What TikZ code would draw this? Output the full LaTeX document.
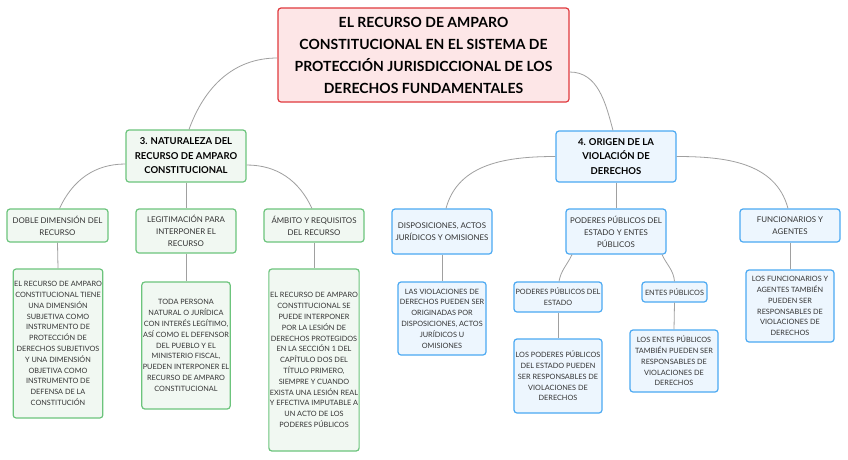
\documentclass[tikz,border=0pt]{standalone}
\usepackage{fontspec}
\setmainfont{Lato}
\definecolor{rootfill}{HTML}{FDE6E7}
\definecolor{rootdraw}{HTML}{E0393E}
\definecolor{gfill}{HTML}{F1F8F2}
\definecolor{gdraw}{HTML}{6CC47C}
\definecolor{bfill}{HTML}{EDF6FE}
\definecolor{bdraw}{HTML}{4BA9F2}
\definecolor{conn}{HTML}{A0A0A0}
\definecolor{txt}{HTML}{333333}
\tikzset{
  basebox/.style={rounded corners=3pt, line width=1.2pt, align=center, inner sep=1pt, text=txt},
  rootbox/.style={basebox, fill=rootfill, draw=rootdraw, text=black, font=\bfseries\fontsize{14}{22}\selectfont},
  gmain/.style={basebox, fill=gfill, draw=gdraw, text=black, font=\bfseries\fontsize{9.5}{14.5}\selectfont},
  bmain/.style={basebox, fill=bfill, draw=bdraw, text=black, font=\bfseries\fontsize{9.5}{14.5}\selectfont},
  gsub/.style={basebox, fill=gfill, draw=gdraw, font=\fontsize{7.9}{12}\selectfont},
  bsub/.style={basebox, fill=bfill, draw=bdraw, font=\fontsize{7.9}{12}\selectfont},
  gleaf/.style={basebox, fill=gfill, draw=gdraw, font=\fontsize{7.3}{10.8}\selectfont},
  bleaf/.style={basebox, fill=bfill, draw=bdraw, font=\fontsize{7.3}{10.8}\selectfont},
  link/.style={draw=conn, line width=0.8pt},
}
\begin{document}
\begin{tikzpicture}[x=1pt,y=-1pt]
\useasboundingbox (0,0) rectangle (848,459);
\fill[white] (0,0) rectangle (848,459);
% boxes
\node[rootbox, minimum width=291pt, minimum height=94pt] (root) at (423.5,55) {EL RECURSO DE AMPARO\\CONSTITUCIONAL EN EL SISTEMA DE\\PROTECCIÓN JURISDICCIONAL DE LOS\\DERECHOS FUNDAMENTALES};
\node[gmain, minimum width=120pt, minimum height=52pt] (n3) at (186,156) {3. NATURALEZA DEL\\RECURSO DE AMPARO\\CONSTITUCIONAL};
\node[bmain, minimum width=120pt, minimum height=51pt] (n4) at (616,156.5) {4. ORIGEN DE LA\\VIOLACIÓN DE\\DERECHOS};
\node[gsub, minimum width=101pt, minimum height=33pt] (doble) at (57.5,225.5) {DOBLE DIMENSIÓN DEL\\RECURSO};
\node[gsub, minimum width=100pt, minimum height=44pt] (legit) at (186,231) {LEGITIMACIÓN PARA\\INTERPONER EL\\RECURSO};
\node[gsub, minimum width=100pt, minimum height=33pt] (ambito) at (314,225.5) {ÁMBITO Y REQUISITOS\\DEL RECURSO};
\node[bsub, minimum width=100pt, minimum height=45pt] (disp) at (442,231.5) {DISPOSICIONES, ACTOS\\JURÍDICOS Y OMISIONES};
\node[bsub, minimum width=100pt, minimum height=45pt] (poder) at (616,231.5) {PODERES PÚBLICOS DEL\\ESTADO Y ENTES\\PÚBLICOS};
\node[bsub, minimum width=100pt, minimum height=33pt] (func) at (790,225.5) {FUNCIONARIOS Y\\AGENTES};
\node[gleaf, minimum width=88pt, minimum height=149pt] (dobled) at (58,343.5) {EL RECURSO DE AMPARO\\CONSTITUCIONAL TIENE\\UNA DIMENSIÓN\\SUBJETIVA COMO\\INSTRUMENTO DE\\PROTECCIÓN DE\\DERECHOS SUBJETIVOS\\Y UNA DIMENSIÓN\\OBJETIVA COMO\\INSTRUMENTO DE\\DEFENSA DE LA\\CONSTITUCIÓN};
\node[gleaf, minimum width=88pt, minimum height=127pt] (legitd) at (186,345.5) {TODA PERSONA\\NATURAL O JURÍDICA\\CON INTERÉS LEGÍTIMO,\\ASÍ COMO EL DEFENSOR\\DEL PUEBLO Y EL\\MINISTERIO FISCAL,\\PUEDEN INTERPONER EL\\RECURSO DE AMPARO\\CONSTITUCIONAL};
\node[gleaf, minimum width=88pt, minimum height=182pt] (ambitod) at (314,360) {EL RECURSO DE AMPARO\\CONSTITUCIONAL SE\\PUEDE INTERPONER\\POR LA LESIÓN DE\\DERECHOS PROTEGIDOS\\EN LA SECCIÓN 1 DEL\\CAPÍTULO DOS DEL\\TÍTULO PRIMERO,\\SIEMPRE Y CUANDO\\EXISTA UNA LESIÓN REAL\\Y EFECTIVA IMPUTABLE A\\UN ACTO DE LOS\\PODERES PÚBLICOS};
\node[bleaf, minimum width=88pt, minimum height=73pt] (dispd) at (442,318.5) {LAS VIOLACIONES DE\\DERECHOS PUEDEN SER\\ORIGINADAS POR\\DISPOSICIONES, ACTOS\\JURÍDICOS U\\OMISIONES};
\node[bleaf, minimum width=88pt, minimum height=30pt] (pe) at (558,297) {PODERES PÚBLICOS DEL\\ESTADO};
\node[bleaf, minimum width=65pt, minimum height=20pt] (ep) at (674.5,292) {ENTES PÚBLICOS};
\node[bleaf, minimum width=88pt, minimum height=72pt] (funcd) at (790,306) {LOS FUNCIONARIOS Y\\AGENTES TAMBIÉN\\PUEDEN SER\\RESPONSABLES DE\\VIOLACIONES DE\\DERECHOS};
\node[bleaf, minimum width=88pt, minimum height=74pt] (ped) at (558,376) {LOS PODERES PÚBLICOS\\DEL ESTADO PUEDEN\\SER RESPONSABLES DE\\VIOLACIONES DE\\DERECHOS};
\node[bleaf, minimum width=88pt, minimum height=62pt] (epd) at (674,361) {LOS ENTES PÚBLICOS\\TAMBIÉN PUEDEN SER\\RESPONSABLES DE\\VIOLACIONES DE\\DERECHOS};
% connectors
\draw[link] ([yshift=-3pt]root.west) to[out=180,in=70] ([xshift=3pt]n3.north);
\draw[link] ([yshift=-17pt]root.east) to[out=0,in=105] ([xshift=-3pt]n4.north);
\draw[link] ([yshift=-8pt]n3.west) to[out=180,in=65] ([xshift=2pt]doble.north);
\draw[link] ([yshift=-9pt]n3.east) to[out=0,in=115] ([xshift=-2pt]ambito.north);
\draw[link] (n3.south) -- (legit.north);
\draw[link] (n4.west) to[out=180,in=75] ([xshift=4pt]disp.north);
\draw[link] (n4.east) to[out=0,in=105] ([xshift=-2pt]func.north);
\draw[link] (n4.south) -- (poder.north);
\draw[link] ([xshift=-44pt]poder.south) to[out=245,in=80] ([xshift=1pt]pe.north);
\draw[link] ([xshift=46pt]poder.south) to[out=-65,in=95] (ep.north);
\draw[link] (doble.south) -- (dobled.north);
\draw[link] (legit.south) -- (legitd.north);
\draw[link] (ambito.south) -- (ambitod.north);
\draw[link] (disp.south) -- (dispd.north);
\draw[link] (pe.south) -- (ped.north);
\draw[link] (ep.south) -- (epd.north);
\draw[link] (func.south) -- (funcd.north);
\end{tikzpicture}
\end{document}
